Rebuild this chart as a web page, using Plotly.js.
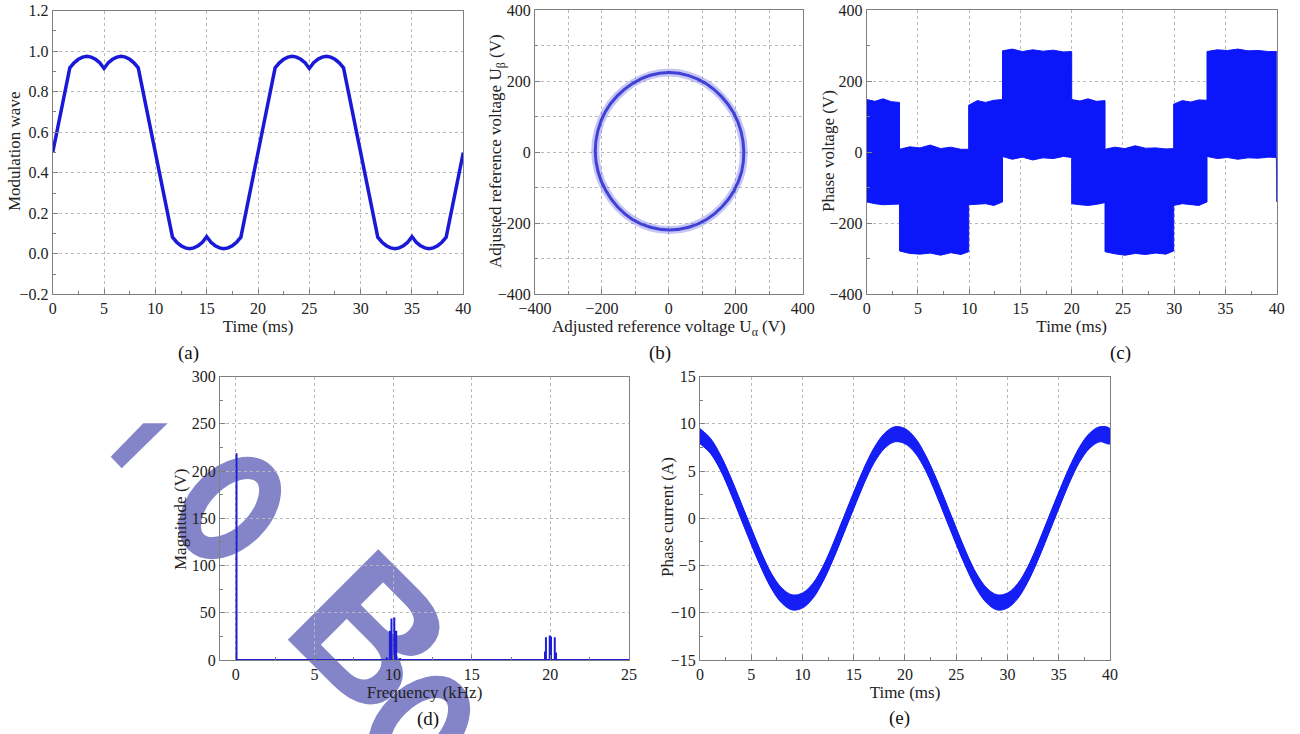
<!DOCTYPE html>
<html><head><meta charset="utf-8">
<script src="https://cdn.plot.ly/plotly-3.0.1.min.js"></script>
<style>html,body{margin:0;padding:0;background:#fff;}#chart{width:1300px;height:734px;}</style>
</head><body><div id="chart"></div>
<script>
// ---------- (a) Modulation wave ----------
const modTime = [0, 1.667, 2.083, 2.5, 2.917, 3.333, 3.75, 4.167, 4.583, 5, 5.417, 5.833, 6.25, 6.667, 7.083, 7.5, 7.917, 8.333,
  11.667, 12.083, 12.5, 12.917, 13.333, 13.75, 14.167, 14.583, 15, 15.417, 15.833, 16.25, 16.667, 17.083, 17.5, 17.917, 18.333,
  20, 21.667, 22.083, 22.5, 22.917, 23.333, 23.75, 24.167, 24.583, 25, 25.417, 25.833, 26.25, 26.667, 27.083, 27.5, 27.917, 28.333,
  31.667, 32.083, 32.5, 32.917, 33.333, 33.75, 34.167, 34.583, 35, 35.417, 35.833, 36.25, 36.667, 37.083, 37.5, 37.917, 38.333, 40];
const modWave = [0.500, 0.918, 0.943, 0.960, 0.971, 0.975, 0.971, 0.960, 0.943, 0.915, 0.943, 0.960, 0.971, 0.975, 0.971, 0.960, 0.943, 0.918,
  0.082, 0.057, 0.040, 0.029, 0.025, 0.029, 0.040, 0.057, 0.085, 0.057, 0.040, 0.029, 0.025, 0.029, 0.040, 0.057, 0.082,
  0.500, 0.918, 0.943, 0.960, 0.971, 0.975, 0.971, 0.960, 0.943, 0.915, 0.943, 0.960, 0.971, 0.975, 0.971, 0.960, 0.943, 0.918,
  0.082, 0.057, 0.040, 0.029, 0.025, 0.029, 0.040, 0.057, 0.085, 0.057, 0.040, 0.029, 0.025, 0.029, 0.040, 0.057, 0.082, 0.500];

// ---------- (b) Adjusted reference voltage trajectory ----------
const uAlpha = [224, 215.5, 192.5, 156.9, 112, 59.2, 2, -55.5, -108.5, -154.3, -190.3, -212.4, -220,
  -211.5, -188.5, -153.6, -108.5, -55.2, 2, 59.2, 112.5, 158.3, 194.3, 217.4, 224];
const uBeta = [2, 59.2, 112, 156.9, 192.5, 215.5, 224, 216.4, 193.4, 158.3, 113, 59.5, 2,
  -55.2, -108, -153.6, -189.4, -211.5, -219, -211.5, -189.4, -154.3, -109, -55.7, 2];

// ---------- (c) Phase voltage envelope ----------
const phaseTime = [0, 0.8, 1.6, 2.4, 3.2, 3.2, 4.2, 5.2, 6.2, 7.2, 8.2, 9.2, 9.95, 9.95, 10.8, 11.6, 12.4, 13.25,
  13.25, 14.2, 15.2, 16.2, 17.2, 18.2, 19.2, 20.0, 20.0, 20.8, 21.6, 22.4, 23.25, 23.25, 24.2, 25.2, 26.2, 27.2, 28.2, 29.2, 29.95,
  29.95, 30.8, 31.6, 32.4, 33.2, 33.2, 34.2, 35.2, 36.2, 37.2, 38.2, 39.2, 39.97, 40];
const phaseUpper = [148, 143, 150, 142, 140, 8, 15, 12, 20, 10, 14, 8, 8, 132, 145, 140, 146, 148,
  285, 290, 283, 288, 284, 287, 282, 283, 148, 144, 150, 143, 145, 8, 14, 10, 18, 11, 12, 9, 10,
  135, 145, 141, 147, 146, 283, 288, 286, 290, 285, 286, 283, 283, 283];
const phaseLower = [-140, -145, -148, -146, -146, -278, -285, -287, -284, -290, -283, -288, -280, -148, -147, -145, -150, -140,
  -12, -20, -14, -22, -16, -18, -12, -15, -145, -148, -150, -147, -142, -280, -286, -290, -285, -288, -284, -287, -278,
  -150, -145, -148, -150, -140, -12, -18, -15, -20, -16, -17, -14, -15, -140];

// ---------- (d) Spectrum ----------
const specFreq = [0.05, 9.6, 9.8, 9.9, 10.08, 10.2, 10.45, 19.66, 19.72, 19.96, 20.04, 20.28, 20.36];
const specMag = [219, 3, 31, 44, 45, 31, 2, 9, 24, 26, 25, 24, 8];
const specEnd = 25;

// ---------- (e) Phase current ----------
const curTime = [0,1,2,3,4,5,6,7,8,9,10,11,12,13,14,15,16,17,18,19,20,21,22,23,24,25,26,27,28,29,30,31,32,33,34,35,36,37,38,39,40];
const curValue = [8.7, 7.7, 5.9, 3.5, 0.8, -1.9, -4.5, -6.7, -8.2, -8.9, -8.7, -7.7, -5.9, -3.5, -0.8, 1.9, 4.5, 6.7, 8.2, 8.9,
  8.7, 7.7, 5.9, 3.5, 0.8, -1.9, -4.5, -6.7, -8.2, -8.9, -8.7, -7.7, -5.9, -3.5, -0.8, 1.9, 4.5, 6.7, 8.2, 8.9, 8.7];
const curRipple = 0.8;

// ---------- labels ----------
const panelLabels = ['(a)', '(b)', '(c)', '(d)', '(e)'];
const xTitles = ['Time (ms)', 'Adjusted reference voltage U<sub>α</sub> (V)', 'Time (ms)', 'Frequency (kHz)', 'Time (ms)'];
const yTitles = ['Modulation wave', 'Adjusted reference voltage U<sub>β</sub> (V)', 'Phase voltage (V)', 'Magnitude (V)', 'Phase current (A)'];

// ---------- traces ----------
const traces = [];
traces.push({x: modTime, y: modWave, xaxis: 'x', yaxis: 'y', mode: 'lines',
  line: {color: 'rgb(25,25,215)', width: 3.5}});

traces.push({x: uAlpha, y: uBeta, xaxis: 'x2', yaxis: 'y2', mode: 'lines',
  line: {color: 'rgba(90,90,230,0.35)', width: 8, shape: 'spline'}});
traces.push({x: uAlpha, y: uBeta, xaxis: 'x2', yaxis: 'y2', mode: 'lines',
  line: {color: 'rgba(50,50,210,0.9)', width: 3, shape: 'spline'}});

traces.push({x: phaseTime.concat(phaseTime.slice().reverse()),
  y: phaseUpper.concat(phaseLower.slice().reverse()),
  xaxis: 'x3', yaxis: 'y3', mode: 'lines', fill: 'toself',
  fillcolor: 'rgb(12,22,250)', line: {color: 'rgb(12,22,250)', width: 1}});

const sx = [0], sy = [0];
specFreq.forEach((f, i) => { sx.push(f, f, f); sy.push(0, specMag[i], 0); });
sx.push(specEnd); sy.push(0);
traces.push({x: sx, y: sy, xaxis: 'x4', yaxis: 'y4', mode: 'lines',
  line: {color: 'rgb(30,30,215)', width: 2}});

const up = curValue.map(v => v + curRipple), lo = curValue.map(v => v - curRipple);
traces.push({x: curTime.concat(curTime.slice().reverse()), y: up.concat(lo.slice().reverse()),
  xaxis: 'x5', yaxis: 'y5', mode: 'lines', fill: 'toself', fillcolor: 'rgb(20,30,245)',
  line: {color: 'rgb(20,30,245)', width: 1, shape: 'spline'}});
traces.push({x: curTime, y: curValue, xaxis: 'x5', yaxis: 'y5', mode: 'lines',
  line: {color: 'rgb(20,30,245)', width: 7, shape: 'spline'}});

// ---------- axes ----------
const FONT = 'Liberation Serif, Times New Roman, serif';
function ax(opts) {
  const base = {
    showline: true, linecolor: '#808080', linewidth: 1, mirror: true,
    ticks: 'inside', ticklen: 5, tickcolor: '#808080', tickwidth: 1,
    showgrid: true, gridcolor: '#b8b8b8', griddash: 'dot', gridwidth: 1,
    zeroline: false, fixedrange: true, automargin: false,
    tickfont: {family: FONT, size: 16, color: '#222'},
  };
  return Object.assign(base, opts);
}
const titleFont = {family: FONT, size: 17, color: '#222'};
function ttl(text) { return {text: text, font: titleFont, standoff: 2}; }
function mn(d, grid) {
  const m = {dtick: d, ticks: 'inside', ticklen: 3, tickcolor: '#808080'};
  if (grid) Object.assign(m, {showgrid: true, gridcolor: '#b8b8b8', griddash: 'dot'});
  return m;
}

const dom = {
  a: {x: [0.04054, 0.35638], y: [0.59905, 0.98542]},
  b: {x: [0.41154, 0.61746], y: [0.59905, 0.98638]},
  c: {x: [0.66669, 0.98208], y: [0.59905, 0.98638]},
  d: {x: [0.16923, 0.48385], y: [0.10082, 0.48683]},
  e: {x: [0.53846, 0.85385], y: [0.10082, 0.48683]}
};

// ---------- watermark (drawn under the data) ----------
const wm = '#8484c8';
const svg = '<svg xmlns="http://www.w3.org/2000/svg" width="1300" height="734" viewBox="0 0 1300 734">' +
  '<polygon points="110.7,456.7 143.3,423.3 167.7,423.3 121.7,468.3" fill="' + wm + '"/>' +
  '<ellipse cx="230" cy="508" rx="30" ry="48" fill="none" stroke="' + wm + '" stroke-width="22" transform="rotate(45 230 508)"/>' +
  '<text x="0" y="0" font-family="Liberation Sans, Arial, sans-serif" font-weight="bold" font-size="186" fill="' + wm + '" transform="translate(279 631) rotate(45)">B</text>' +
  '<ellipse cx="419" cy="727" rx="30" ry="48" fill="none" stroke="' + wm + '" stroke-width="22" transform="rotate(45 419 727)"/>' +
  '</svg>';

const annFont = {family: FONT, size: 19, color: '#111'};
const labelPos = [[188, 353], [660, 353], [1120, 353], [428, 719], [899, 718]];
const yTitlePos = [[15, 152], [497, 151], [828, 151], [180, 519], [667, 517]];
const annotations = panelLabels.map((t, i) => ({
  text: t, xref: 'paper', yref: 'paper', x: labelPos[i][0] / 1300, y: 1 - labelPos[i][1] / 734,
  xanchor: 'center', yanchor: 'middle', showarrow: false, font: annFont
})).concat(yTitles.map((t, i) => ({
  text: t, xref: 'paper', yref: 'paper', x: yTitlePos[i][0] / 1300, y: 1 - yTitlePos[i][1] / 734,
  xanchor: 'center', yanchor: 'middle', textangle: -90, showarrow: false, font: titleFont
})));

const layout = {
  width: 1300, height: 734, margin: {l: 0, r: 0, t: 0, b: 0},
  paper_bgcolor: '#ffffff', plot_bgcolor: 'rgba(0,0,0,0)', showlegend: false,
  xaxis: ax({domain: dom.a.x, anchor: 'y', range: [0, 40], dtick: 5, tick0: 0, minor: mn(2.5), title: ttl(xTitles[0])}),
  yaxis: ax({domain: dom.a.y, anchor: 'x', range: [-0.2, 1.2], dtick: 0.2, tick0: 0, tickformat: '.1f', minor: mn(0.1)}),
  xaxis2: ax({domain: dom.b.x, anchor: 'y2', range: [-400, 400], dtick: 200, tick0: 0, minor: mn(100, true), title: ttl(xTitles[1])}),
  yaxis2: ax({domain: dom.b.y, anchor: 'x2', range: [-400, 400], dtick: 200, tick0: 0, minor: mn(100, true)}),
  xaxis3: ax({domain: dom.c.x, anchor: 'y3', range: [0, 40], dtick: 5, tick0: 0, minor: mn(2.5), title: ttl(xTitles[2])}),
  yaxis3: ax({domain: dom.c.y, anchor: 'x3', range: [-400, 400], dtick: 200, tick0: 0, minor: mn(100)}),
  xaxis4: ax({domain: dom.d.x, anchor: 'y4', range: [-1, 25], dtick: 5, tick0: 0, minor: mn(2.5), title: ttl(xTitles[3])}),
  yaxis4: ax({domain: dom.d.y, anchor: 'x4', range: [0, 300], dtick: 50, tick0: 0, minor: mn(25)}),
  xaxis5: ax({domain: dom.e.x, anchor: 'y5', range: [0, 40], dtick: 5, tick0: 0, minor: mn(2.5), title: ttl(xTitles[4])}),
  yaxis5: ax({domain: dom.e.y, anchor: 'x5', range: [-15, 15], dtick: 5, tick0: 0, minor: mn(2.5)}),
  annotations: annotations,
  images: [{source: 'data:image/svg+xml;charset=utf-8,' + encodeURIComponent(svg),
    xref: 'paper', yref: 'paper', x: 0, y: 1, sizex: 1, sizey: 1,
    xanchor: 'left', yanchor: 'top', sizing: 'stretch', layer: 'below'}]
};

Plotly.newPlot('chart', traces, layout, {staticPlot: true, displayModeBar: false});
</script>
</body></html>
